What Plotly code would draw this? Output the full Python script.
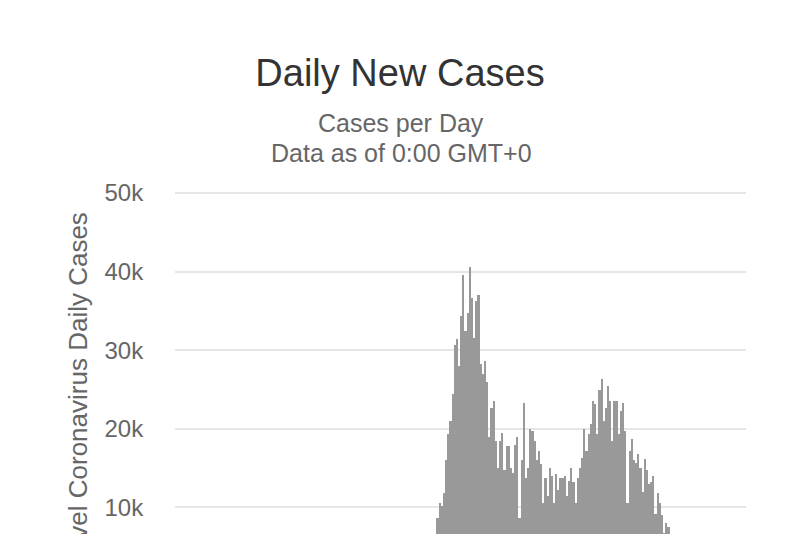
import pandas as pd
import plotly.graph_objects as go

# daily new cases (only the part above ~6.6k is visible)
first_day = "2020-06-15"
daily_cases = [
    8700, 10600, 10200, 11800, 16000, 19400, 21000, 24400, 30700, 31400,
    28000, 34300, 39600, 32400, 34700, 40600, 36600, 31500, 36200, 37000,
    28200, 27000, 28600, 26000, 19000,
    22700, 23500, 18500, 15000, 18500, 19500, 14700, 17800, 17800, 15000,
    14400, 18000, 19000, 8700, 16000, 23300, 13800, 15000, 20000, 19700,
    18500, 16000, 17200, 15500, 10500, 13800, 11500, 15000, 14000, 10500,
    14300, 12200, 13700,
    13700, 14000, 11500, 13400, 15000, 13200, 10500, 13700, 15000, 16300,
    20000, 17200, 19400, 20600, 23500, 23200, 19400, 25000, 26400, 21000,
    22700, 25400, 23500, 18500, 23500, 23500, 19400, 22300, 23300, 19700,
    10600, 17200, 18700, 16000, 15600, 16800, 15000, 11900, 16200, 14700,
    13000, 13200, 14000, 9200, 11800, 10500, 9000, 6800, 8000, 7500,
]
dates = pd.date_range(first_day, periods=len(daily_cases), freq="D")

tick_values = [10000, 20000, 30000, 40000, 50000]
tick_labels = ["10k", "20k", "30k", "40k", "50k"]

font = "Liberation Sans, Arial, sans-serif"

fig = go.Figure(go.Bar(x=dates, y=daily_cases, marker_color="#999999",
                       marker_line_width=0))

# page body adds an 8px offset, so the figure is laid out 8px up/left
fig.update_layout(
    width=800, height=526,
    margin=dict(l=167, r=62, t=183, b=0),
    plot_bgcolor="white", paper_bgcolor="white",
    font=dict(family=font, color="#666666"),
    bargap=0,
    showlegend=False,
    title=dict(text="Daily New Cases", x=0.49, xanchor="center",
               y=1 - 65 / 526, yanchor="middle",
               font=dict(size=38, color="#333333", family=font)),
)

# subtitle lines
fig.add_annotation(text="Cases per Day", xref="paper", yref="paper",
                   x=0.396, y=1.199, showarrow=False,
                   xanchor="center", yanchor="middle",
                   font=dict(size=25, color="#666666"))
fig.add_annotation(text="Data as of 0:00 GMT+0", xref="paper", yref="paper",
                   x=0.396, y=1.111, showarrow=False,
                   xanchor="center", yanchor="middle",
                   font=dict(size=25, color="#666666"))

# y axis title, centred on the full (cropped) plot height
fig.add_annotation(text="Novel Coronavirus Daily Cases", xref="paper", yref="paper",
                   x=-0.170, y=0.414, textangle=-90, showarrow=False,
                   xanchor="center", yanchor="middle",
                   font=dict(size=26, color="#666666"))

fig.update_xaxes(range=["2020-02-14 09:36", "2020-11-04 21:36"],
                 showgrid=False, showline=False, zeroline=False,
                 showticklabels=False, ticks="")
fig.update_yaxes(range=[6616, 50254], tickvals=tick_values, ticktext=tick_labels,
                 showgrid=True, gridcolor="#e6e6e6", gridwidth=2,
                 zeroline=False, showline=False,
                 ticks="outside", ticklen=26, tickcolor="rgba(0,0,0,0)",
                 tickfont=dict(size=24, color="#666666"))

fig.write_html("out.html")
